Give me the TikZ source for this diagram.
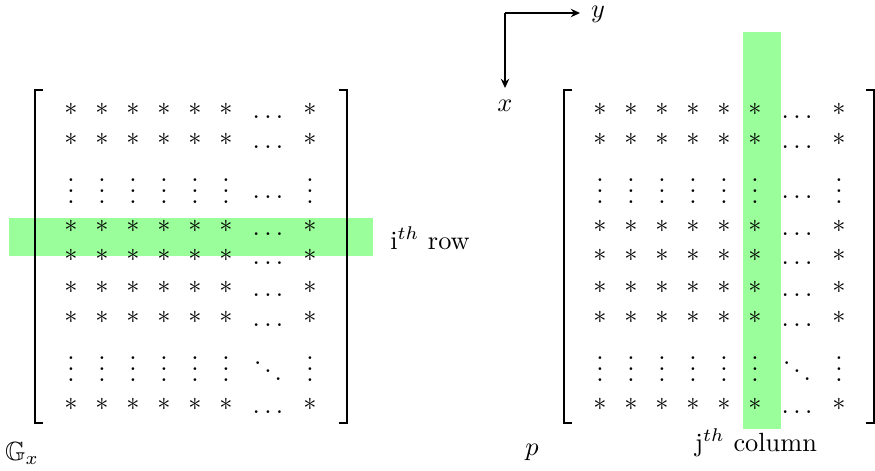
\documentclass[tikz,border=0pt]{standalone}
\usepackage{amssymb}
\usetikzlibrary{arrows.meta}
\definecolor{hilite}{RGB}{154,255,154}
\begin{document}
\begin{tikzpicture}[x=0.38pt,y=-0.38pt,
  entry/.style={inner sep=0pt,anchor=base},
  bracket/.style={line width=0.8pt},
  axis/.style={-{Stealth[length=3.5pt,width=3.2pt]}, line width=0.5pt},
  label/.style={inner sep=0pt}]
\useasboundingbox (0,0) rectangle (875,470);

% highlighted row (left) and column (right)
\fill[hilite] (9,218) rectangle (373,256);
\fill[hilite] (743,32) rectangle (781,429);

% matrix entries: M = matrix name, o = horizontal offset
\foreach \M/\o in {L/0,R/529}{
  % rows of stars
  \foreach \r/\yy in {1/109,2/139,4/226,5/255,6/287,7/317,9/404}{
    \foreach \c/\xx in {1/71,2/102,3/133,4/164,5/195,6/226,8/310}{
      \node[entry] (\M-\r-\c) at (\xx+\o,\yy+6) {$*$};
    }
    \node[entry] (\M-\r-7) at (268+\o,\yy+9) {$\ldots$};
  }
  % rows of vertical dots
  \foreach \r/\yy in {3/203,8/381}{
    \foreach \c/\xx in {1/71,2/102,3/133,4/164,5/195,6/226,8/310}{
      \node[entry] (\M-\r-\c) at (\xx+\o,\yy) {$\smash{\vdots}$};
    }
  }
  \node[entry] (\M-3-7) at (268+\o,198) {$\ldots$};
  \node[entry] (\M-8-7) at (268+\o,383) {$\smash{\ddots}$};
}

% brackets
\draw[bracket] (43,90) -- (35,90) -- (35,423) -- (43,423);
\draw[bracket] (339,90) -- (347,90) -- (347,423) -- (339,423);
\draw[bracket] (572,90) -- (564,90) -- (564,423) -- (572,423);
\draw[bracket] (866,90) -- (874,90) -- (874,423) -- (866,423);

% axes
\coordinate (o) at (505,13);
\coordinate (ye) at (580,13);
\coordinate (xe) at (505,88);
\draw[axis] (o) -- (ye);
\draw[axis] (o) -- (xe);
\node[label] (ylab) at (598,14) {$y$};
\node[label] (xlab) at (505,106) {$x$};

% labels
\node[label] (rowlab) at (430,238) {i$^{th}$ row};
\node[label] (collab) at (756,443) {j$^{th}$ column};
\node[label] (glab) at (22,453) {$\mathbb{G}_x$};
\node[label] (plab) at (532,452) {$p$};
\end{tikzpicture}
\end{document}
